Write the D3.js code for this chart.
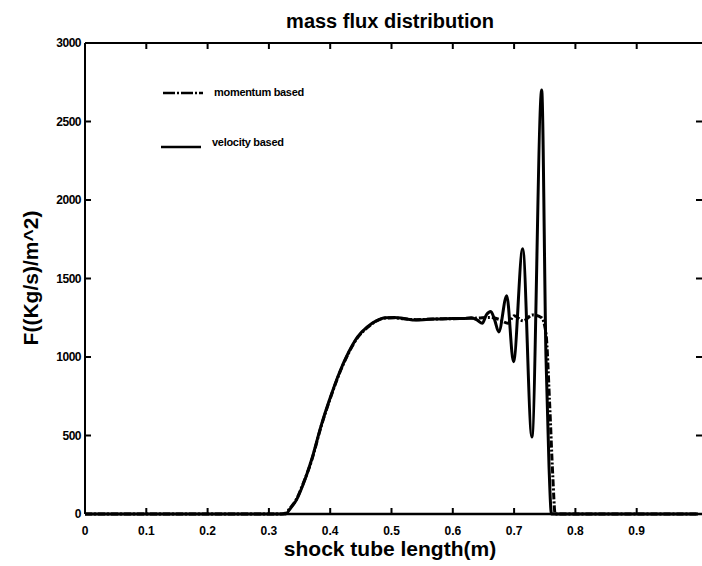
<!DOCTYPE html>
<html><head><meta charset="utf-8">
<script src="https://cdn.jsdelivr.net/npm/d3@7"></script>
<style>
body{margin:0;background:#fff;}
text{font-family:"Liberation Sans",Arial,Helvetica,sans-serif;font-weight:bold;fill:#000;}
</style></head>
<body><svg id="c" width="702" height="566"></svg>
<script>
const title = "mass flux distribution";
const xLabel = "shock tube length(m)";
const yLabel = "F((Kg/s)/m^2)";
const xTicks = [0,0.1,0.2,0.3,0.4,0.5,0.6,0.7,0.8,0.9];
const yTicks = [0,500,1000,1500,2000,2500,3000];
const seriesNames = ["momentum based","velocity based"];

const velX = [0,0.32,0.327,0.335,0.345,0.355,0.37,0.385,0.40,0.415,0.43,0.445,0.46,0.475,0.49,0.505,0.52,0.54,0.56,0.58,0.60,0.62,0.63,0.64,0.648,0.655,0.662,0.668,0.675,0.688,0.699,0.714,0.729,0.745,0.752,0.757,0.761,0.80,1.0];
const velY = [0,0,0,35,90,180,350,560,740,900,1030,1130,1190,1230,1250,1252,1245,1235,1240,1242,1245,1245,1250,1235,1215,1270,1290,1240,1160,1390,970,1690,490,2700,1000,300,0,0,0];

const momX = [0,0.32,0.327,0.335,0.345,0.355,0.37,0.385,0.40,0.415,0.43,0.445,0.46,0.475,0.49,0.505,0.52,0.54,0.56,0.58,0.60,0.62,0.64,0.66,0.675,0.69,0.70,0.715,0.73,0.745,0.752,0.758,0.763,0.767,0.80,1.0];
const momY = [0,0,5,40,95,185,345,555,735,895,1025,1125,1185,1228,1248,1250,1243,1238,1240,1243,1244,1246,1248,1252,1240,1215,1262,1230,1268,1250,1150,700,250,0,0,0];

const svg = d3.select("#c");
const x = d3.scaleLinear().domain([0,1]).range([85,698]);
const y = d3.scaleLinear().domain([0,3000]).range([514,43]);

// frame: left, bottom, top
svg.append("line").attr("x1",85).attr("x2",85).attr("y1",43).attr("y2",514).attr("stroke","#000").attr("stroke-width",2);
svg.append("line").attr("x1",85).attr("x2",702).attr("y1",514).attr("y2",514).attr("stroke","#000").attr("stroke-width",2.5);
svg.append("line").attr("x1",85).attr("x2",702).attr("y1",43).attr("y2",43).attr("stroke","#000").attr("stroke-width",2);

// ticks
const tk = svg.append("g").attr("stroke","#000").attr("stroke-width",2);
xTicks.forEach(t=>{
  tk.append("line").attr("x1",x(t)).attr("x2",x(t)).attr("y1",514).attr("y2",508);
  tk.append("line").attr("x1",x(t)).attr("x2",x(t)).attr("y1",43).attr("y2",49);
});
yTicks.forEach(t=>{
  tk.append("line").attr("x1",85).attr("x2",91).attr("y1",y(t)).attr("y2",y(t));
  if(t>0 && t<3000) tk.append("line").attr("x1",696).attr("x2",702).attr("y1",y(t)).attr("y2",y(t));
});

// tick labels
svg.append("g").selectAll("text").data(xTicks).join("text")
  .attr("x",d=>x(d)).attr("y",535).attr("text-anchor","middle")
  .attr("font-size",12).text(d=>d===0?"0":d3.format(".1f")(d));
svg.append("g").selectAll("text").data(yTicks).join("text")
  .attr("x",81).attr("y",d=>y(d)+4).attr("text-anchor","end")
  .attr("font-size",12).attr("letter-spacing",-0.5).text(d=>d);

// title and axis labels
svg.append("text").attr("x",390).attr("y",28).attr("text-anchor","middle").attr("font-size",20).text(title);
svg.append("text").attr("x",390).attr("y",556).attr("text-anchor","middle").attr("font-size",21).text(xLabel);
svg.append("text").attr("transform","translate(38,278) rotate(-90)").attr("text-anchor","middle").attr("font-size",21).text(yLabel);

// lines
const line = d3.line().x(d=>x(d[0])).y(d=>y(d[1])).curve(d3.curveMonotoneX);
const momData = momX.map((v,i)=>[v,momY[i]]);
const velData = velX.map((v,i)=>[v,velY[i]]);
svg.append("path").datum(velData).attr("d",line).attr("fill","none").attr("stroke","#000").attr("stroke-width",3).attr("stroke-linejoin","round");
svg.append("path").datum(momData).attr("d",line).attr("fill","none").attr("stroke","#000").attr("stroke-width",3).attr("stroke-dasharray","7,2,2,2").attr("stroke-linejoin","round");

// legend
svg.append("line").attr("x1",163).attr("x2",203).attr("y1",93).attr("y2",93).attr("stroke","#000").attr("stroke-width",2.5).attr("stroke-dasharray","12,2,2,2");
svg.append("text").attr("x",214).attr("y",96).attr("font-size",11).attr("letter-spacing",-0.3).text(seriesNames[0]);
svg.append("line").attr("x1",161).attr("x2",201).attr("y1",147).attr("y2",147).attr("stroke","#000").attr("stroke-width",2.5);
svg.append("text").attr("x",212).attr("y",146).attr("font-size",11).attr("letter-spacing",-0.3).text(seriesNames[1]);
</script></body></html>
